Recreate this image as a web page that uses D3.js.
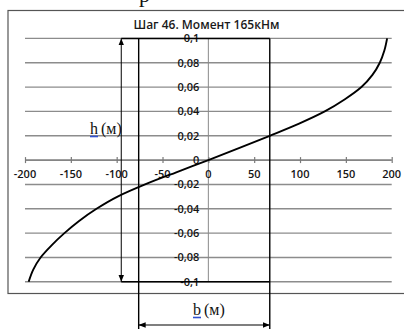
<!DOCTYPE html>
<html>
<head>
<meta charset="utf-8">
<script src="https://cdn.jsdelivr.net/npm/d3@7"></script>
<style>
  html, body { margin: 0; padding: 0; background: #fff; overflow: hidden; }
  svg { display: block; }
</style>
</head>
<body>
<svg id="chart" width="404" height="329"></svg>
<script>
// Strain profile over the section height, step 46
const titleText = "Шаг 46. Момент 165кНм";

// Section height h (m) and the matching b value along the curve
const hValues = [-0.1, -0.09, -0.08, -0.07, -0.06, -0.05, -0.04, -0.03, -0.02, -0.01,
                 0, 0.01, 0.02, 0.03, 0.04, 0.05, 0.06, 0.07, 0.08, 0.09, 0.1];
const bValues = [-196, -191, -183, -171, -157, -141, -122, -99, -69, -35,
                 0, 34, 67, 99, 127, 149, 167, 179, 187, 192, 195];

const xTicks = [-200, -150, -100, -50, 0, 50, 100, 150, 200];
const xTickLabels = ["-200", "-150", "-100", "-50", "0", "50", "100", "150", "200"];
const yTicks = [0.1, 0.08, 0.06, 0.04, 0.02, 0, -0.02, -0.04, -0.06, -0.08, -0.1];
const yTickLabels = ["0,1", "0,08", "0,06", "0,04", "0,02", "0", "-0,02", "-0,04", "-0,06", "-0,08", "-0,1"];

// Section outline drawn over the plot: side edges and the height dimension line
const sectionEdges = [-76, 67];
const heightDimensionAt = -95;
const hLabel = "h";
const bLabel = "b";
const unitLabel = "(м)";

const svg = d3.select("#chart");
const sans = "'Open Sans', 'Noto Sans', sans-serif";
const serif = "'Liberation Serif', 'DejaVu Serif', serif";

const x = d3.scaleLinear().domain([-200, 200]).range([25, 391.7]);
const y = d3.scaleLinear().domain([-0.1, 0.1]).range([281.8, 38.4]);

// Fragment of the line of text above the figure
svg.append("text")
  .attr("x", 139).attr("y", 1.5)
  .attr("font-family", serif).attr("font-size", 22)
  .attr("fill", "#111")
  .text("р");

// Chart frame
svg.append("rect")
  .attr("x", 8).attr("y", 10.5)
  .attr("width", 410).attr("height", 283)
  .attr("fill", "none").attr("stroke", "#555").attr("stroke-width", 1.2);

// Title
svg.append("text")
  .attr("x", 206.5).attr("y", 28.5)
  .attr("text-anchor", "middle")
  .attr("font-family", sans).attr("font-size", 12).attr("font-weight", 600)
  .attr("fill", "#1a1a1a")
  .text(titleText);

// Horizontal gridlines
svg.append("g")
  .selectAll("line")
  .data(yTicks)
  .join("line")
  .attr("x1", x(-200)).attr("x2", x(200))
  .attr("y1", d => y(d)).attr("y2", d => y(d))
  .attr("stroke", "#8c8c8c").attr("stroke-width", 1.4);

// Vertical axis line at b = 0
svg.append("line")
  .attr("x1", x(0)).attr("x2", x(0))
  .attr("y1", y(0.1)).attr("y2", y(-0.1))
  .attr("stroke", "#8a8a8a").attr("stroke-width", 1);

// Horizontal axis at h = 0 with tick marks
const xAxis = d3.axisBottom(x)
  .tickValues(xTicks)
  .tickSize(6)
  .tickFormat("");
const gx = svg.append("g")
  .attr("transform", `translate(0,${y(0) - 3})`)
  .call(xAxis);
gx.select(".domain").remove();
gx.selectAll(".tick line").attr("stroke", "#7a7a7a").attr("stroke-width", 1.2);
svg.append("line")
  .attr("x1", x(-200)).attr("x2", x(200))
  .attr("y1", y(0)).attr("y2", y(0))
  .attr("stroke", "#7a7a7a").attr("stroke-width", 1.4);

// Tick labels
svg.append("g")
  .selectAll("text")
  .data(xTicks)
  .join("text")
  .attr("x", d => x(d))
  .attr("y", y(0) + 18)
  .attr("text-anchor", "middle")
  .attr("font-family", sans).attr("font-size", 11).attr("font-weight", 600)
  .attr("fill", "#151515")
  .text((d, i) => xTickLabels[i]);

svg.append("g")
  .selectAll("text")
  .data(yTicks)
  .join("text")
  .attr("x", x(0) - 9)
  .attr("y", d => y(d))
  .attr("dy", "0.36em")
  .attr("text-anchor", "end")
  .attr("font-family", sans).attr("font-size", 11).attr("font-weight", 600)
  .attr("fill", "#151515")
  .text((d, i) => yTickLabels[i]);

// Section outline
const ink = "#000";
const defs = svg.append("defs");
defs.append("marker")
  .attr("id", "head")
  .attr("viewBox", "0 0 10 10")
  .attr("refX", 10).attr("refY", 5)
  .attr("markerWidth", 7).attr("markerHeight", 7)
  .attr("markerUnits", "userSpaceOnUse")
  .attr("orient", "auto-start-reverse")
  .append("path")
  .attr("d", "M0,1 L10,5 L0,9 Z")
  .attr("fill", ink);

svg.append("g")
  .selectAll("line")
  .data(sectionEdges)
  .join("line")
  .attr("x1", d => x(d)).attr("x2", d => x(d))
  .attr("y1", y(0.1)).attr("y2", 329)
  .attr("stroke", ink).attr("stroke-width", 1.4);

svg.append("g")
  .selectAll("line")
  .data([0.1, -0.1])
  .join("line")
  .attr("x1", x(heightDimensionAt)).attr("x2", x(sectionEdges[1]))
  .attr("y1", d => y(d)).attr("y2", d => y(d))
  .attr("stroke", ink).attr("stroke-width", 1.5);

// Height dimension arrow
svg.append("line")
  .attr("x1", x(heightDimensionAt)).attr("x2", x(heightDimensionAt))
  .attr("y1", y(0.1)).attr("y2", y(-0.1))
  .attr("stroke", ink).attr("stroke-width", 1)
  .attr("marker-start", "url(#head)")
  .attr("marker-end", "url(#head)");

// Width dimension arrow below the frame
const widthDimY = 325;
svg.append("line")
  .attr("x1", x(sectionEdges[0])).attr("x2", x(sectionEdges[1]))
  .attr("y1", widthDimY).attr("y2", widthDimY)
  .attr("stroke", ink).attr("stroke-width", 1.2)
  .attr("marker-start", "url(#head)")
  .attr("marker-end", "url(#head)");

// Dimension labels with underlined letter
function dimLabel(letter, xStart, baseline) {
  const t = svg.append("text")
    .attr("x", xStart).attr("y", baseline)
    .attr("font-family", serif).attr("font-size", 16)
    .attr("fill", "#111");
  t.append("tspan").text(letter);
  t.append("tspan").attr("dx", 3).text(unitLabel);
  const letterWidth = t.select("tspan").node().getComputedTextLength();
  svg.append("line")
    .attr("x1", xStart).attr("x2", xStart + letterWidth)
    .attr("y1", baseline + 2.5).attr("y2", baseline + 2.5)
    .attr("stroke", "#3050d0").attr("stroke-width", 1.6);
}
dimLabel(hLabel, 90, 134);
dimLabel(bLabel, 193, 315);

// Curve b(h)
const points = hValues.map((h, i) => [bValues[i], h]);
svg.append("path")
  .datum(points)
  .attr("fill", "none")
  .attr("stroke", "#000")
  .attr("stroke-width", 1.9)
  .attr("d", d3.line()
    .x(d => x(d[0]))
    .y(d => y(d[1]))
    .curve(d3.curveMonotoneY));
</script>
</body>
</html>
